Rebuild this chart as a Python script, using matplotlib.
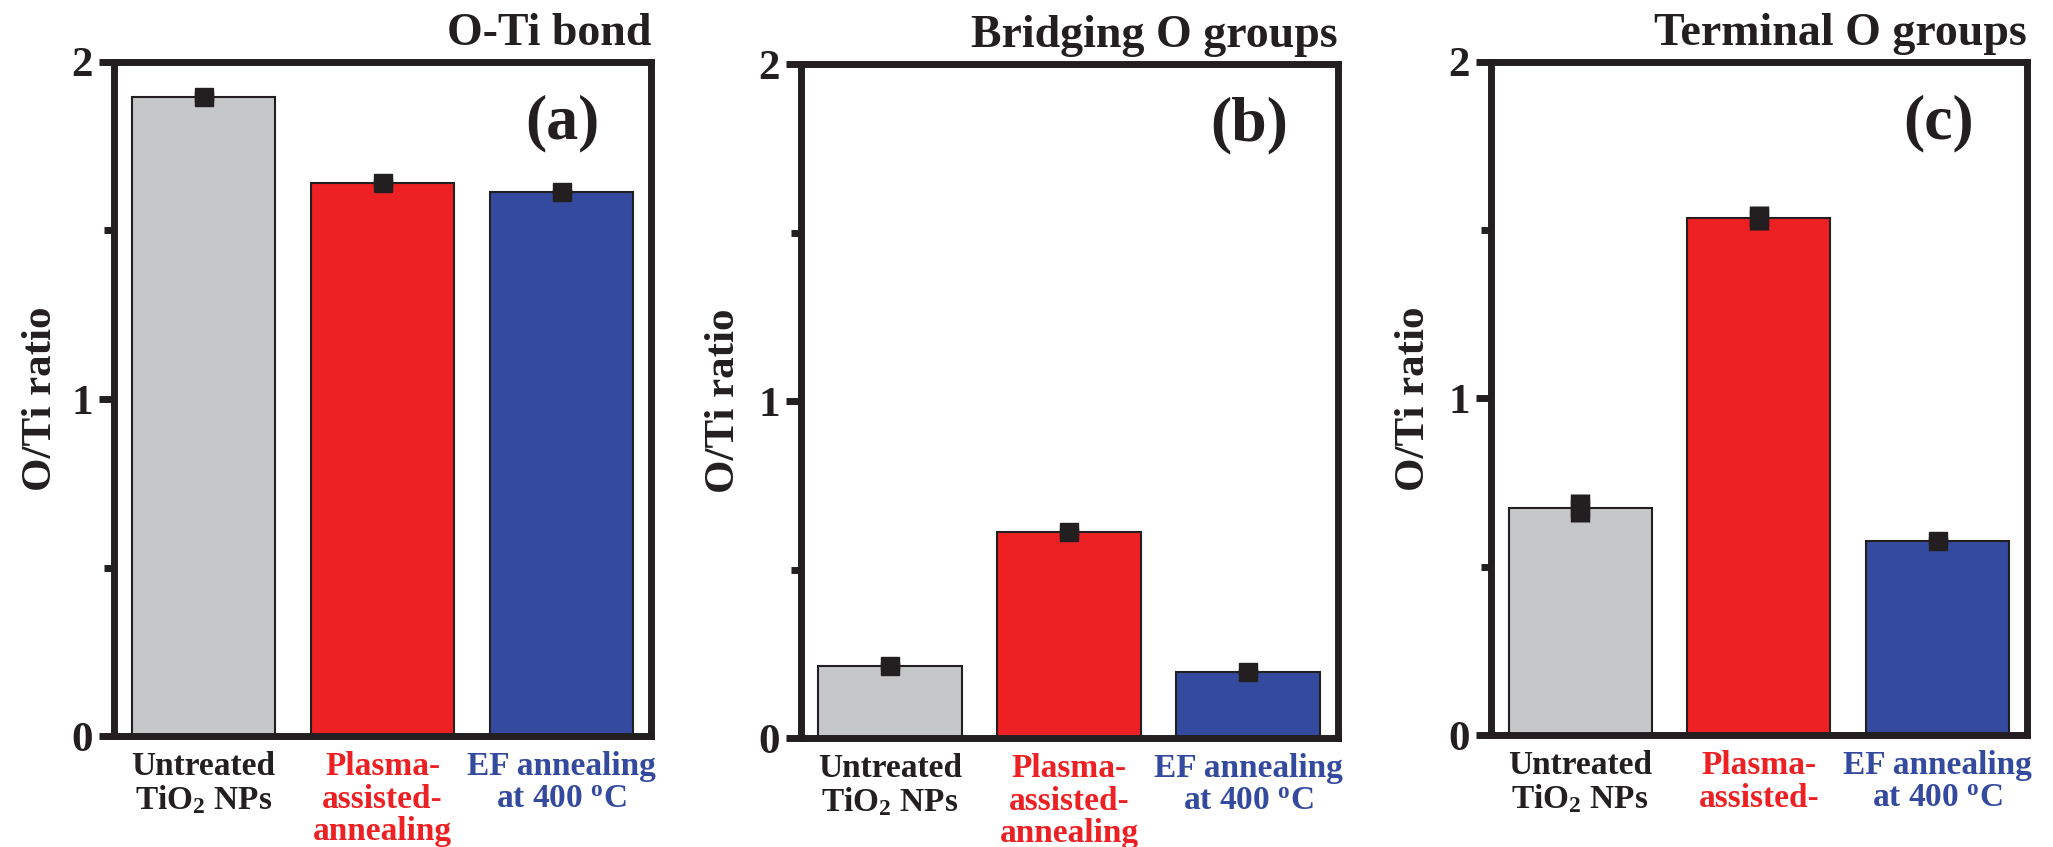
import matplotlib
matplotlib.use('Agg')
import matplotlib.pyplot as plt

plt.rcParams['font.family'] = ['Liberation Serif', 'DejaVu Serif']
plt.rcParams['font.weight'] = 'bold'
plt.rcParams['axes.titleweight'] = 'bold'
plt.rcParams['axes.labelweight'] = 'bold'
plt.rcParams['mathtext.fontset'] = 'custom'
plt.rcParams['mathtext.rm'] = 'Liberation Serif:bold'
plt.rcParams['mathtext.bf'] = 'Liberation Serif:bold'
plt.rcParams['mathtext.it'] = 'Liberation Serif:bold'
plt.rcParams['mathtext.default'] = 'rm'

# ---------------- data ----------------
categories = ['Untreated\nTiO$_2$ NPs', 'Plasma-\nassisted-\nannealing', 'EF annealing\nat 400 $^o$C']
categories_c = ['Untreated\nTiO$_2$ NPs', 'Plasma-\nassisted-', 'EF annealing\nat 400 $^o$C']
titles = ['O-Ti bond', 'Bridging O groups', 'Terminal O groups']
panel_tags = ['(a)', '(b)', '(c)']
o_ti_bond = [1.897, 1.641, 1.614]
o_ti_bond_err = [0.015, 0.012, 0.008]
bridging_o = [0.214, 0.611, 0.196]
bridging_o_err = [0.012, 0.012, 0.008]
terminal_o = [0.675, 1.537, 0.577]
terminal_o_err = [0.042, 0.036, 0.010]
ytick_major = [0, 1, 2]
ytick_major_labels = ['0', '1', '2']
ytick_minor = [0.5, 1.5]
ylabel = 'O/Ti ratio'

bar_colors = ['#C6C7C9', '#ED2124', '#344A9E']
label_colors = ['#231F20', '#ED2124', '#344A9E']
ink = '#231F20'

W, H = 2053, 847
fig = plt.figure(figsize=(W / 100, H / 100), dpi=100)

# axes rectangles in pixels: left, bottom(y from top), right, top(y from top)
rects = [(114, 736, 651, 62), (800.6, 738, 1337.5, 64), (1490.7, 735, 2027, 62)]
label_x = [-0.100, -0.107, -0.108]
series = [(o_ti_bond, o_ti_bond_err, categories),
          (bridging_o, bridging_o_err, categories),
          (terminal_o, terminal_o_err, categories_c)]

for i, ((l, b, r, t), (vals, errs, cats)) in enumerate(zip(rects, series)):
    ax = fig.add_axes([l / W, (H - b) / H, (r - l) / W, (b - t) / H])
    x = list(range(len(vals)))
    ax.bar(x, vals, width=0.8, color=bar_colors, edgecolor=ink, linewidth=1.5, zorder=2)
    ax.errorbar(x, vals, yerr=errs, fmt='s', color=ink, ms=13, elinewidth=14,
                capsize=0, zorder=3)
    ax.set_xlim(-0.5, 2.5)
    ax.set_ylim(0, 2)
    ax.set_yticks(ytick_major)
    ax.set_yticklabels(ytick_major_labels)
    ax.set_yticks(ytick_minor, minor=True)
    ax.tick_params(axis='y', which='major', direction='out', length=11, width=5,
                   labelsize=31, pad=4, colors=ink)
    ax.tick_params(axis='y', which='minor', direction='out', length=7, width=5, colors=ink)
    ax.set_xticks(x)
    ax.set_xticklabels(cats, fontsize=24, linespacing=1.06)
    ax.tick_params(axis='x', length=0, pad=11)
    for lab, c in zip(ax.get_xticklabels(), label_colors):
        lab.set_color(c)
    for s in ax.spines.values():
        s.set_linewidth(5)
        s.set_color(ink)
        s.set_capstyle('projecting')
    ax.set_ylabel(ylabel, fontsize=31, color=ink, fontweight='bold')
    ax.yaxis.set_label_coords(label_x[i], 0.5)
    ax.set_title(titles[i], loc='right', fontsize=33, pad=12, color=ink, fontweight='bold')
    ax.text(0.835, 0.909, panel_tags[i], transform=ax.transAxes, ha='center',
            va='center', fontsize=46, color=ink, fontweight='bold')

fig.savefig('out.png', dpi=100)
